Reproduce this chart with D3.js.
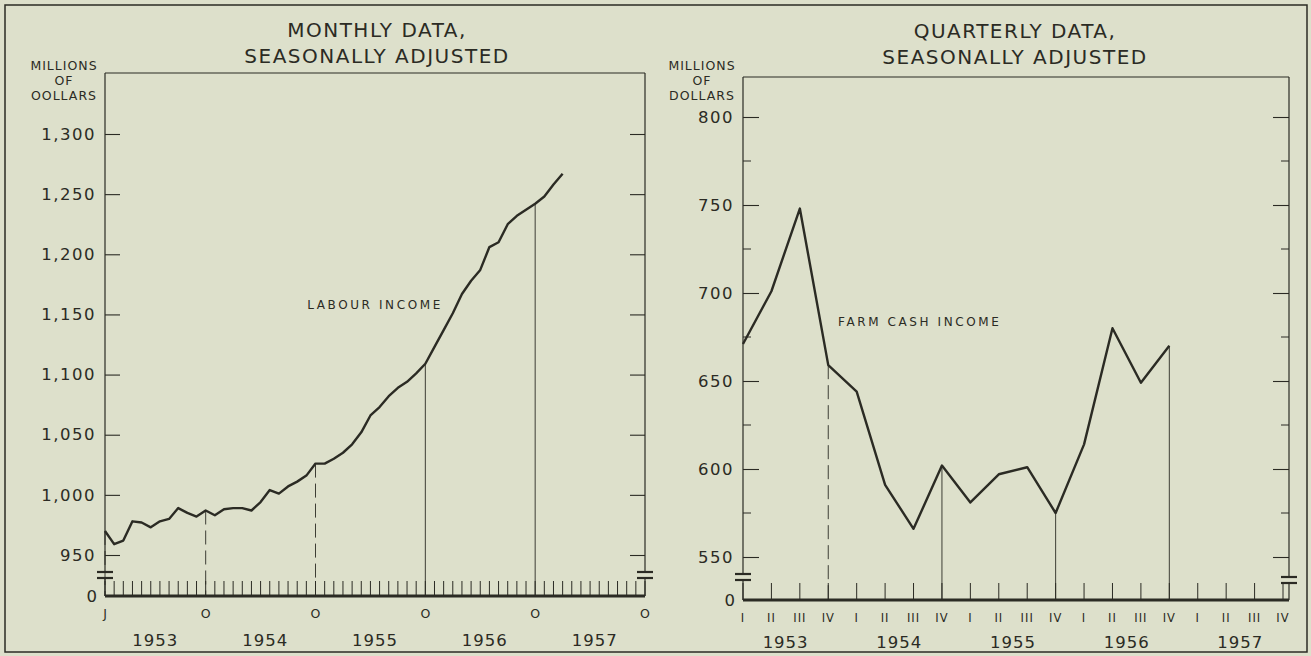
<!DOCTYPE html>
<html><head><meta charset="utf-8">
<script src="https://cdn.jsdelivr.net/npm/d3@7"></script>
<style>
html,body{margin:0;padding:0;background:#dde0cb;}
svg{display:block;}
text{font-family:"DejaVu Sans",sans-serif;fill:#2b2b24;}
</style></head><body>
<svg id="chart" width="1311" height="656"></svg>
<script>
// ---- data ----
// Labour income, monthly, Jan 1953 .. Mar 1957 (millions of dollars)
const monthlyValues = [970, 959, 962, 978, 977, 973, 978, 980, 989, 985, 982, 987,
  983, 988, 989, 989, 987, 994, 1004, 1001, 1007, 1011, 1016, 1026,
  1026, 1030, 1035, 1042, 1052, 1066, 1073, 1082, 1089, 1094, 1101, 1109,
  1123, 1137, 1151, 1167, 1178, 1187, 1206, 1210, 1225, 1232, 1237, 1242,
  1248, 1258, 1267];
// Farm cash income, quarterly, I 1953 .. IV 1956
const quarterlyValues = [671, 701, 748, 659, 644, 591, 566, 602, 581, 597, 601, 575, 614, 680, 649, 670];
const years = ["1953", "1954", "1955", "1956", "1957"];
const monthTickLabels = ["J", "O", "O", "O", "O", "O"];
const monthTickIndex = [0, 11, 23, 35, 47, 59];
const quarterLabels = ["I", "II", "III", "IV"];
const leftYTicks = [950, 1000, 1050, 1100, 1150, 1200, 1250, 1300];
const rightYTicks = [550, 600, 650, 700, 750, 800];
const rightYMinor = [575, 625, 675, 725, 775];
const leftDropIdx = [0, 11, 23, 35, 47];
const rightDropIdx = [3, 7, 11, 15];

const ink = "#2b2b24";
const svg = d3.select("#chart");

// outer border
svg.append("rect").attr("x", 5).attr("y", 5).attr("width", 1302).attr("height", 647)
  .attr("fill", "none").attr("stroke", ink).attr("stroke-width", 1.5);

function panel(cfg) {
  const g = svg.append("g");
  const x = cfg.x, y = cfg.y;
  const x0 = x.range()[0], x1 = cfg.frameRight;
  const top = cfg.top, base = cfg.base, brk = cfg.brk;
  // titles
  g.append("text").attr("x", cfg.titleX).attr("y", cfg.titleY[0]).attr("text-anchor", "middle")
    .style("font-size", "20px").style("letter-spacing", "1.5px").text(cfg.title1);
  g.append("text").attr("x", cfg.titleX).attr("y", cfg.titleY[1]).attr("text-anchor", "middle")
    .style("font-size", "20px").style("letter-spacing", "1.5px").text("SEASONALLY ADJUSTED");
  cfg.unit.forEach((t, i) => g.append("text").attr("x", cfg.unitX).attr("y", cfg.unitY + i * 15)
    .attr("text-anchor", "middle").style("font-size", "12.5px").style("letter-spacing", "1px").text(t));
  // frame: top, left/right upper parts, lower parts
  g.append("line").attr("x1", x0).attr("x2", x1).attr("y1", top).attr("y2", top).attr("stroke", ink).attr("stroke-width", 1.2);
  [[x0, brk[0]], [x1, brk[1]]].forEach(([xx, b]) => {
    g.append("line").attr("x1", xx).attr("x2", xx).attr("y1", top).attr("y2", b - 3).attr("stroke", ink).attr("stroke-width", 1.2);
    g.append("line").attr("x1", xx).attr("x2", xx).attr("y1", b + 3).attr("y2", base).attr("stroke", ink).attr("stroke-width", 1.2);
    [b - 3, b + 3].forEach(yy => g.append("line").attr("x1", xx - 8).attr("x2", xx + 8).attr("y1", yy).attr("y2", yy)
      .attr("stroke", ink).attr("stroke-width", 2.2));
  });
  // y axis left (ticks inward)
  const ax = g.append("g").attr("transform", `translate(${x0},0)`)
    .call(d3.axisLeft(y).tickValues(cfg.yTicks).tickSize(-cfg.tickLen).tickPadding(9).tickFormat(cfg.fmt));
  ax.select(".domain").remove();
  ax.selectAll("line").attr("stroke", ink).attr("stroke-width", 1.1);
  ax.selectAll("text").style("font-size", "16.5px").style("letter-spacing", "1.5px").attr("fill", ink).style("font-family", "DejaVu Sans");
  // right side ticks
  const axr = g.append("g").attr("transform", `translate(${x1},0)`)
    .call(d3.axisRight(y).tickValues(cfg.yTicks).tickSize(-cfg.tickLen).tickFormat(""));
  axr.select(".domain").remove();
  axr.selectAll("line").attr("stroke", ink).attr("stroke-width", 1.1);
  if (cfg.minor) {
    cfg.minor.forEach(v => {
      g.append("line").attr("x1", x0).attr("x2", x0 + 8).attr("y1", y(v)).attr("y2", y(v)).attr("stroke", ink);
      g.append("line").attr("x1", x1).attr("x2", x1 - 8).attr("y1", y(v)).attr("y2", y(v)).attr("stroke", ink);
    });
  }
  // zero label
  g.append("text").attr("x", x0 - 8).attr("y", base).attr("dy", "0.35em").attr("text-anchor", "end")
    .style("font-size", "16.5px").text("0");
  // baseline
  g.append("line").attr("x1", x0).attr("x2", x1).attr("y1", base).attr("y2", base).attr("stroke", ink).attr("stroke-width", 3);
  // x ticks
  d3.range(cfg.nTicks).forEach(i => {
    g.append("line").attr("x1", x(i)).attr("x2", x(i)).attr("y1", base).attr("y2", base - cfg.xTickLen)
      .attr("stroke", ink).attr("stroke-width", 1);
  });
  return g;
}

// LEFT PANEL
const xL = d3.scaleLinear().domain([0, 59]).range([105, 645]);
const yL = d3.scaleLinear().domain([950, 1300]).range([555, 134]);
const gL = panel({x: xL, y: yL, frameRight: 645, top: 73, base: 596, brk: [575, 575], titleX: 377, titleY: [37, 63],
  title1: "MONTHLY DATA,", unit: ["MILLIONS", "OF", "OOLLARS"], unitX: 64, unitY: 70,
  yTicks: leftYTicks, tickLen: 15, fmt: d3.format(","), nTicks: 60, xTickLen: 15});
// drop lines
leftDropIdx.forEach((i, k) => {
  gL.append("line").attr("x1", xL(i)).attr("x2", xL(i)).attr("y1", yL(monthlyValues[i])).attr("y2", 596)
    .attr("stroke", ink).attr("stroke-width", 0.9).attr("stroke-dasharray", k < 3 ? "14,6" : null);
});
gL.append("path").datum(monthlyValues)
  .attr("d", d3.line().x((d, i) => xL(i)).y(d => yL(d)))
  .attr("fill", "none").attr("stroke", ink).attr("stroke-width", 2.4).attr("stroke-linejoin", "round");
monthTickIndex.forEach((i, k) => gL.append("text").attr("x", xL(i)).attr("y", 618).attr("text-anchor", "middle")
  .style("font-size", "12.5px").text(monthTickLabels[k]));
years.forEach((t, k) => gL.append("text").attr("x", xL(5.5 + 12 * k)).attr("y", 646).attr("text-anchor", "middle")
  .style("font-size", "16.5px").style("letter-spacing", "1px").text(t));
gL.append("text").attr("x", 375).attr("y", 309).attr("text-anchor", "middle")
  .style("font-size", "12px").style("letter-spacing", "2.6px").text("LABOUR INCOME");

// RIGHT PANEL
const xR = d3.scaleLinear().domain([0, 19]).range([743, 1283]);
const yR = d3.scaleLinear().domain([550, 800]).range([557, 117]);
const gR = panel({x: xR, y: yR, frameRight: 1289, top: 77, base: 600, brk: [577, 580], titleX: 1015, titleY: [38, 64],
  title1: "QUARTERLY DATA,", unit: ["MILLIONS", "OF", "DOLLARS"], unitX: 702, unitY: 70,
  yTicks: rightYTicks, tickLen: 16, minor: rightYMinor, fmt: d3.format("d"), nTicks: 20, xTickLen: 17});
rightDropIdx.forEach((i, k) => {
  gR.append("line").attr("x1", xR(i)).attr("x2", xR(i)).attr("y1", yR(quarterlyValues[i])).attr("y2", 600)
    .attr("stroke", ink).attr("stroke-width", 0.9).attr("stroke-dasharray", k === 0 ? "14,6" : null);
});
gR.append("path").datum(quarterlyValues)
  .attr("d", d3.line().x((d, i) => xR(i)).y(d => yR(d)))
  .attr("fill", "none").attr("stroke", ink).attr("stroke-width", 2.4).attr("stroke-linejoin", "round");
d3.range(20).forEach(i => gR.append("text").attr("x", xR(i)).attr("y", 622).attr("text-anchor", "middle")
  .style("font-size", "11.5px").style("letter-spacing", "1px").text(quarterLabels[i % 4]));
years.forEach((t, k) => gR.append("text").attr("x", xR(1.5 + 4 * k)).attr("y", 648).attr("text-anchor", "middle")
  .style("font-size", "16.5px").style("letter-spacing", "1px").text(t));
gR.append("text").attr("x", 838).attr("y", 326).attr("text-anchor", "start")
  .style("font-size", "12px").style("letter-spacing", "2.6px").text("FARM CASH INCOME");
</script>
</body></html>
